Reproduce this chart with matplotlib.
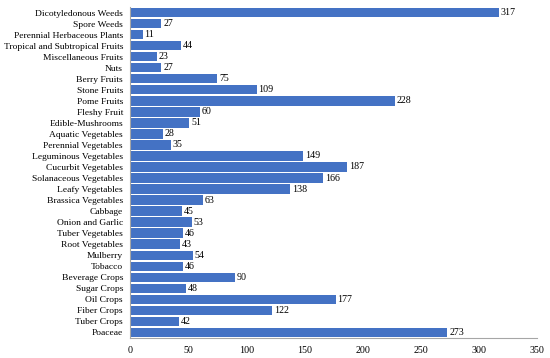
import matplotlib
matplotlib.use("Agg")
import matplotlib.pyplot as plt

categories = ["Dicotyledonous Weeds", "Spore Weeds", "Perennial Herbaceous Plants",
              "Tropical and Subtropical Fruits", "Miscellaneous Fruits", "Nuts",
              "Berry Fruits", "Stone Fruits", "Pome Fruits", "Fleshy Fruit",
              "Edible-Mushrooms", "Aquatic Vegetables", "Perennial Vegetables",
              "Leguminous Vegetables", "Cucurbit Vegetables", "Solanaceous Vegetables",
              "Leafy Vegetables", "Brassica Vegetables", "Cabbage", "Onion and Garlic",
              "Tuber Vegetables", "Root Vegetables", "Mulberry", "Tobacco",
              "Beverage Crops", "Sugar Crops", "Oil Crops", "Fiber Crops",
              "Tuber Crops", "Poaceae"]
values = [317, 27, 11, 44, 23, 27, 75, 109, 228, 60, 51, 28, 35, 149, 187, 166,
          138, 63, 45, 53, 46, 43, 54, 46, 90, 48, 177, 122, 42, 273]
xticks = [0, 50, 100, 150, 200, 250, 300, 350]

plt.rcParams['font.family'] = ['Liberation Serif', 'DejaVu Serif']
fs = 6.8
fig = plt.figure(figsize=(5.5, 3.58), dpi=100)
ax = fig.add_axes([130/550, 1 - 338/358, (537 - 130)/550, 331/358])
n = len(categories)
ypos = list(range(n))[::-1]
ax.barh(ypos, values, height=0.86, color='#4472C4')
for y, v in zip(ypos, values):
    ax.text(v + 1.5, y, str(v), va='center', ha='left', fontsize=7.2)
ax.set_yticks(ypos)
ax.set_yticklabels(categories, fontsize=fs)
ax.set_xticks(xticks)
ax.set_xticklabels([str(t) for t in xticks], fontsize=7.2)
ax.set_xlim(0, 350)
ax.set_ylim(-0.5, n - 0.5)
for s in ['top', 'right']:
    ax.spines[s].set_visible(False)
ax.spines['left'].set_color('#A6A6A6')
ax.spines['bottom'].set_color('#A6A6A6')
ax.spines['left'].set_linewidth(0.8)
ax.spines['bottom'].set_linewidth(0.8)
ax.tick_params(axis='x', length=0, pad=6)
ax.tick_params(axis='y', length=0, pad=5)
fig.savefig('out.png', dpi=100)
